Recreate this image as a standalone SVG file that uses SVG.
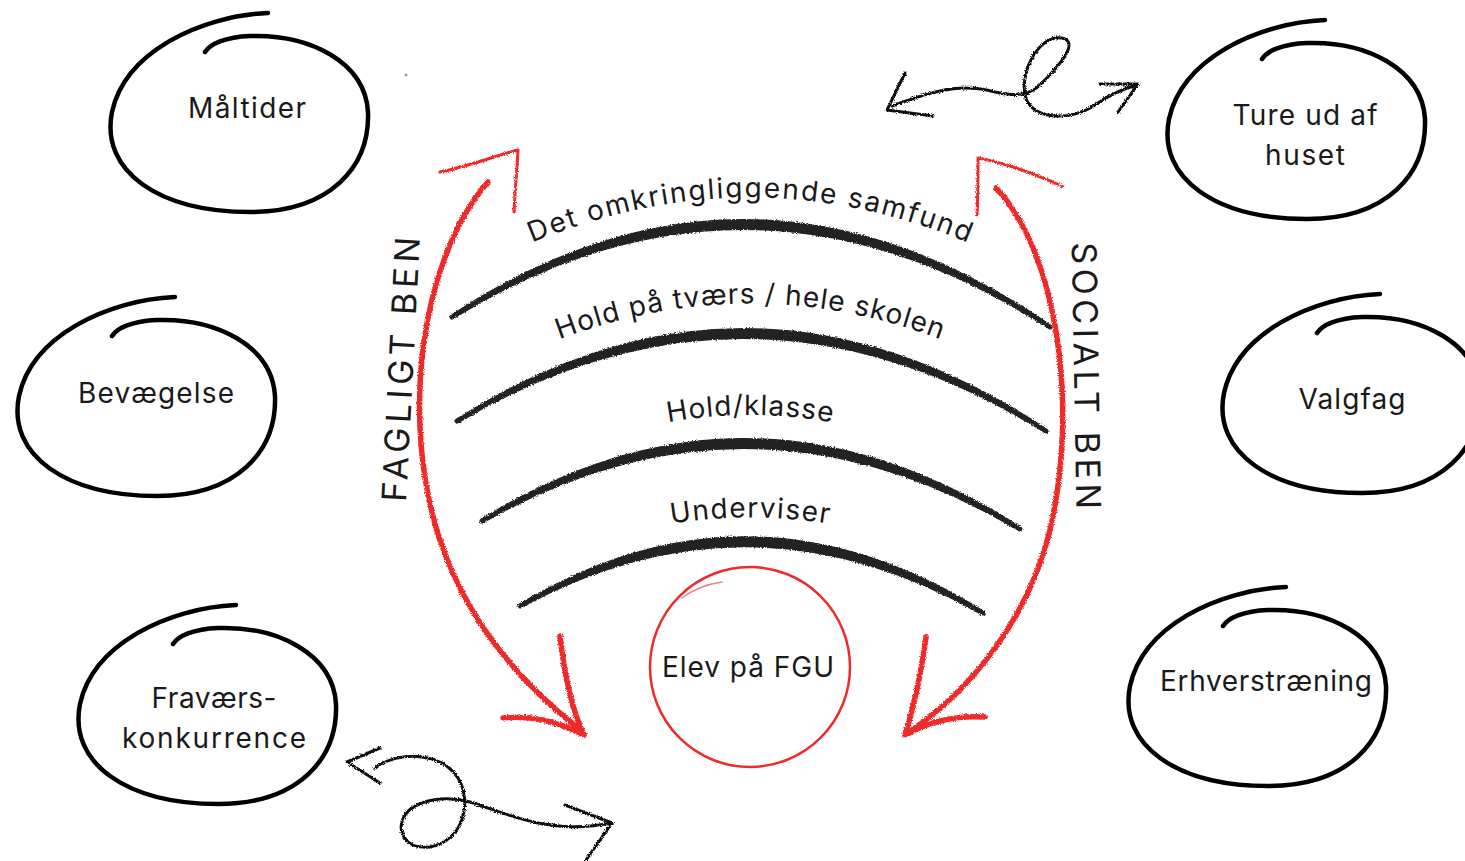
<svg xmlns="http://www.w3.org/2000/svg" xmlns:xlink="http://www.w3.org/1999/xlink" width="1465" height="861" viewBox="0 0 1465 861">
<defs>
<style>
.lbl{font-family:Inter,"Noto Sans","Liberation Sans",sans-serif;font-size:28px;fill:#1a1a1a;text-anchor:middle}
.side{font-family:Inter,"Noto Sans","Liberation Sans",sans-serif;font-size:34px;fill:#1a1a1a;text-anchor:middle}
.loop{fill:none;stroke:#000;stroke-width:4.5;stroke-linecap:round}
.arc{fill:#222;stroke:#222;stroke-width:5;stroke-linejoin:round;stroke-linecap:round}
.red{fill:none;stroke:#ee2b2b;stroke-width:5.5;stroke-linecap:round}
.redthin{fill:none;stroke:#ee2b2b;stroke-width:3;stroke-linecap:round;stroke-linejoin:round}
.sq{fill:none;stroke:#111;stroke-width:3;stroke-linecap:round;stroke-linejoin:round}
</style>
<filter id="chalk" x="-5%" y="-20%" width="110%" height="140%">
<feTurbulence type="fractalNoise" baseFrequency="0.9" numOctaves="2" seed="3" result="n"/>
<feDisplacementMap in="SourceGraphic" in2="n" scale="3.5" xChannelSelector="R" yChannelSelector="G"/>
</filter>
<path id="loopShape" class="loop" d="M28,-99 C-40,-96 -115,-60 -128,0 C-140,60 -80,100 10,100 C90,100 130,55 128,0 C125,-50 70,-78 10,-76 C-15,-75 -30,-68 -35,-60"/>
<path id="tp1" d="M515,250 Q750,145 985,250"/>
<path id="tp2" d="M545,345 Q750,262 955,345"/>
<path id="tp3" d="M600,440 Q750,390 900,440"/>
<path id="tp4" d="M600,540 Q750,495 900,540"/>
</defs>
<rect width="1465" height="861" fill="#fff"/>
<circle cx="406" cy="75" r="1.5" fill="#999"/>

<g id="levels">
<path class="arc" filter="url(#chalk)" d="M452,317 Q750,121 1050,327 Q750,133 452,317 Z"/>
<path class="arc" filter="url(#chalk)" d="M457,421 Q750,235 1046,431 Q750,247 457,421 Z"/>
<path class="arc" filter="url(#chalk)" d="M482,521 Q750,356 1020,529 Q750,368 482,521 Z"/>
<path class="arc" filter="url(#chalk)" d="M520,606 Q750,468 983,613 Q750,480 520,606 Z"/>
<text class="lbl"><textPath href="#tp1" startOffset="50%" textLength="448" lengthAdjust="spacing">Det omkringliggende samfund</textPath></text>
<text class="lbl"><textPath href="#tp2" startOffset="50%" textLength="390" lengthAdjust="spacing">Hold på tværs / hele skolen</textPath></text>
<text class="lbl"><textPath href="#tp3" startOffset="50%" textLength="165" lengthAdjust="spacing">Hold/klasse</textPath></text>
<text class="lbl"><textPath href="#tp4" startOffset="50%" textLength="158" lengthAdjust="spacing">Underviser</textPath></text>
</g>

<g id="node-maltider">
<use href="#loopShape" transform="translate(240,112)"/>
<text class="lbl" x="247" y="118" textLength="118">Måltider</text>
</g>
<g id="node-bevaegelse">
<use href="#loopShape" transform="translate(147,396)"/>
<text class="lbl" x="156" y="403" textLength="156">Bevægelse</text>
</g>
<g id="node-fravaers">
<use href="#loopShape" transform="translate(208,704)"/>
<text class="lbl" x="214" y="708" textLength="125">Fraværs-</text>
<text class="lbl" x="214" y="748" textLength="184">konkurrence</text>
</g>
<g id="node-ture">
<use href="#loopShape" transform="translate(1297,119)"/>
<text class="lbl" x="1305" y="125" textLength="145">Ture ud af</text>
<text class="lbl" x="1305" y="165" textLength="80">huset</text>
</g>
<g id="node-valgfag">
<use href="#loopShape" transform="translate(1352,393)"/>
<text class="lbl" x="1352" y="409" textLength="107">Valgfag</text>
</g>
<g id="node-erhverv">
<use href="#loopShape" transform="translate(1258,686)"/>
<text class="lbl" x="1266" y="691" textLength="212">Erhverstræning</text>
</g>
<g id="node-elev">
<circle cx="750" cy="667" r="100" fill="none" stroke="#ee2b2b" stroke-width="2.5"/>
<path d="M682,598 C695,588 708,584 722,582" fill="none" stroke="#f08080" stroke-width="1.5" stroke-linecap="round"/>
<text class="lbl" x="748" y="677" textLength="172">Elev på FGU</text>
</g>

<g id="labels">
<text class="side" transform="translate(413,370) rotate(-87)" textLength="265">FAGLIGT BEN</text>
<text class="side" transform="translate(1074,376) rotate(89)" textLength="267">SOCIALT BEN</text>
</g>

<g id="connectors">
<g filter="url(#chalk)">
<path class="red" d="M488,182 C420,260 400,420 440,540 C470,630 530,690 578,728"/>
<path class="redthin" d="M440,172 C470,166 495,156 518,150 C517,170 515,190 514,212"/>
<path class="red" d="M503,718 C530,715 560,722 584,735 M560,636 C565,680 572,710 584,735"/>
<path class="red" d="M996,188 C1055,250 1080,400 1050,530 C1028,620 970,690 912,730"/>
<path class="redthin" d="M1062,186 C1030,172 1000,162 978,158 C978,175 978,195 977,215"/>
<path class="red" d="M985,717 C955,715 928,722 905,735 M926,637 C920,680 913,710 905,735"/>
<path class="sq" d="M892,106 C930,92 960,82 995,92 C1015,97 1030,95 1040,85 C1060,65 1080,42 1062,38 C1040,34 1020,70 1025,95 C1030,120 1070,122 1095,105 C1110,95 1125,88 1135,86"/>
<path class="sq" d="M905,73 L887,110 L933,116"/>
<path class="sq" stroke-width="4" d="M1100,84 L1138,84 L1118,112"/>
<path class="sq" d="M375,768 C395,752 440,750 458,778 C472,800 465,840 430,847 C405,850 395,830 405,815 C415,800 445,795 470,802 C510,815 550,835 612,823"/>
<path class="sq" stroke-width="4" d="M380,748 L347,762 L380,783"/>
<path class="sq" d="M565,805 L612,823 L586,860"/>
</g>
</g>
</svg>
